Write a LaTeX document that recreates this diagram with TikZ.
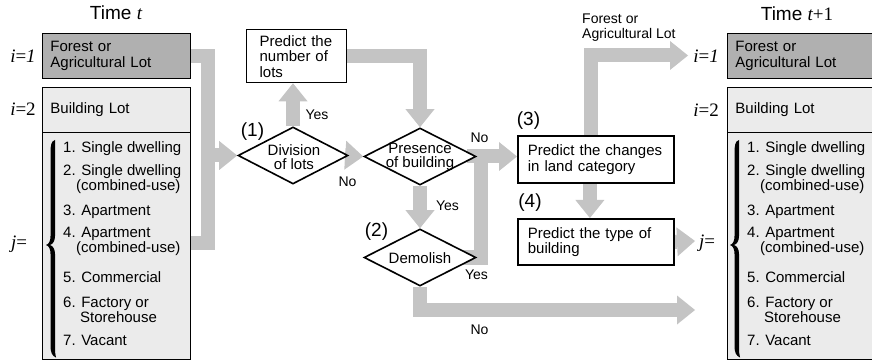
\documentclass[tikz,border=0pt]{standalone}
\usepackage{fontspec}
\setmainfont{Liberation Sans}
\newfontfamily\serifit{Liberation Serif}
\usetikzlibrary{arrows.meta,shapes.geometric}
\pgfdeclarelayer{back}
\pgfdeclarelayer{bg}
\pgfsetlayers{back,bg,main}
\definecolor{barcol}{HTML}{C4C4C4}
\definecolor{darkfill}{HTML}{B0B0B0}
\definecolor{lightfill}{HTML}{EBEBEB}
\newcommand\fs{\fontsize{15}{15.5}\selectfont}
\newcommand\catlist[2]{%
\begin{scope}[xshift=#1]
\node[item] (#2a) at (63,153) {1. Single dwelling};
\node[item] (#2b) at (63,175.5) {2. Single dwelling};
\node[item] (#2c) at (76,191) {(combined-use)};
\node[item] (#2d) at (63,215.5) {3. Apartment};
\node[item] (#2e) at (63,238) {4. Apartment};
\node[item] (#2f) at (76,253) {(combined-use)};
\node[item] (#2g) at (63,282) {5. Commercial};
\node[item] (#2h) at (63,307) {6. Factory or};
\node[item] (#2i) at (80,322) {Storehouse};
\node[item] (#2j) at (63,345) {7. Vacant};
\fill (55,140) .. controls (51,141) and (50.5,146) .. (50.5,153)
 -- (50.5,236) .. controls (50.5,241) and (49,244) .. (46,245)
 .. controls (49,246) and (50.5,249) .. (50.5,254)
 -- (50.5,346) .. controls (50.5,352) and (52,356) .. (56,357.5)
 .. controls (55,354) and (55,351) .. (55,346)
 -- (55,254) .. controls (55,249) and (53,246) .. (50,245)
 .. controls (53,244) and (55,241) .. (55,236)
 -- (55,153) .. controls (55,147) and (55,144) .. (55,140) -- cycle;
\end{scope}}
\begin{document}
\begin{tikzpicture}[x=1pt,y=-1pt,
 txt/.style={font=\fs, inner sep=0pt},
 item/.style={font=\fs, inner sep=0pt, anchor=base west},
 big/.style={font=\fontsize{19}{20}\selectfont, inner sep=0pt},
 lab/.style={font=\fontsize{14}{15}\selectfont, inner sep=0pt},
 mlab/.style={font=\serifit\fontsize{19}{20}\selectfont, inner sep=0pt},
 catbox/.style={draw=black, line width=0.9pt, minimum width=148pt, text width=132pt,
   inner xsep=8pt, inner ysep=0pt, align=left, font=\fs, anchor=north west},
 procbox/.style={draw=black, line width=1.8pt, minimum width=156pt, text width=136pt,
   inner xsep=10pt, inner ysep=0pt, align=left, font=\fs, anchor=north west, fill=white},
 dia/.style={diamond, draw=black, line width=1.6pt, fill=white, minimum width=112pt,
   minimum height=57pt, inner sep=0pt},
 bar/.style={draw=barcol, line width=14pt, line join=miter},
 arr/.style={-{Triangle[length=18pt, width=29pt, line width=0pt]}}
]
\useasboundingbox (0,0) rectangle (872,363);
\begin{pgfonlayer}{back}
\fill[white] (0,0) rectangle (872,363);
\end{pgfonlayer}

% time labels
\node[big] (Tt) at (116,13) {Time {\serifit\itshape t}};
\node[big] (Tt1) at (797,14) {Time {\serifit\itshape t}{\serifit+1}};

% left column
\node[catbox, fill=darkfill, minimum height=45pt] (L1) at (42,33) {Forest or\\Agricultural Lot};
\node[catbox, fill=lightfill, minimum height=45pt] (L2) at (42,87) {Building Lot};
\node[catbox, fill=lightfill, minimum height=227pt] (LJ) at (42,132) {};
\node[mlab] (li1) at (23,56) {\itshape i\upshape=\itshape 1};
\node[mlab] (li2) at (23,109) {\itshape i\upshape=2};
\node[mlab] (lj) at (19,244) {\itshape j\upshape=};
\catlist{0pt}{l}

% right column
\node[catbox, fill=darkfill, minimum height=45pt] (R1) at (727,33) {Forest or\\Agricultural Lot};
\node[catbox, fill=lightfill, minimum height=45pt] (R2) at (727,87) {Building Lot};
\node[catbox, fill=lightfill, minimum height=227pt] (RJ) at (727,132) {};
\node[mlab] (ri1) at (706,56) {\itshape i\upshape=\itshape 1};
\node[mlab] (ri2) at (706,110) {\itshape i\upshape=2};
\node[mlab] (rj) at (707,243) {\itshape j\upshape=};
\catlist{684pt}{r}

% process boxes
\node[draw=black, line width=1.3pt, fill=white, minimum width=100pt, minimum height=53pt,
  text width=74pt, inner xsep=13pt, inner ysep=0pt, align=left, font=\fs, anchor=north west]
  (PN) at (246,29) {Predict the\\number of\\lots};
\node[procbox, minimum height=47pt] (B3) at (517,135) {Predict the changes\\in land category};
\node[procbox, minimum height=46pt] (B4) at (517,218) {Predict the type of\\building};

% diamonds
\node[dia, minimum width=110pt] (D1) at (293,155.5) {};
\node[dia] (P) at (420,156.5) {};
\node[dia] (Dm) at (420,257.5) {};
\node[txt, align=center, font=\fontsize{15}{14}\selectfont] (D1t) at (294,157) {Division\\of lots};
\node[txt, align=center, font=\fontsize{15}{14}\selectfont] (Pt) at (420,157) {Presence\\of building};
\node[txt] (Dmt) at (420,258) {Demolish};

% step numbers
\node[big] (n1) at (252.5,132) {(1)};
\node[big] (n2) at (376.5,232) {(2)};
\node[big] (n3) at (528.5,121) {(3)};
\node[big] (n4) at (530,203) {(4)};

% connector labels
\node[lab] (y1) at (317,115) {Yes};
\node[lab] (no1) at (347.5,182) {No};
\node[lab] (no2) at (479.5,138) {No};
\node[lab] (y2) at (447.5,206) {Yes};
\node[lab] (y3) at (476.5,275) {Yes};
\node[lab] (no3) at (479.5,330) {No};
\node[txt, align=left, anchor=west, font=\fontsize{14}{15}\selectfont] (fal) at (582,27.5) {Forest or\\Agricultural Lot};

% gray connectors
\coordinate (tb) at (207.5,243.5);
\coordinate (tm) at (207.5,155.5);
\coordinate (yj) at (480.5,156.5);
\coordinate (ne) at (695,310);
\coordinate (fa) at (688,55.5);
\coordinate (ja) at (695,241);
\begin{pgfonlayer}{bg}
\draw[bar] (L1.east) -| (tb) -- (tb -| LJ.east);
\draw[bar, arr] (tm) -- (D1.west);
\draw[bar, arr] (D1.north) -- (D1.north |- PN.south);
\draw[bar, arr] (PN.east) -| (P.north);
\draw[bar, arr] (D1.east) -- (P.west);
\draw[bar, arr] (P.south) -- (Dm.north);
\draw[bar] ([xshift=-15pt]Dm.east) -| (yj);
\draw[bar, arr] ([xshift=-10pt]P.east) -- (P.east -| B3.west);
\draw[bar, arr] (Dm.south) |- (ne);
\draw[bar, arr] ([xshift=-6pt]B3.south) -- ([xshift=-6pt]B4.north);
\draw[bar, arr] ([xshift=-5pt]B3.north) |- (fa);
\draw[bar, arr] (B4.east) -- (ja);
\end{pgfonlayer}
\end{tikzpicture}
\end{document}
